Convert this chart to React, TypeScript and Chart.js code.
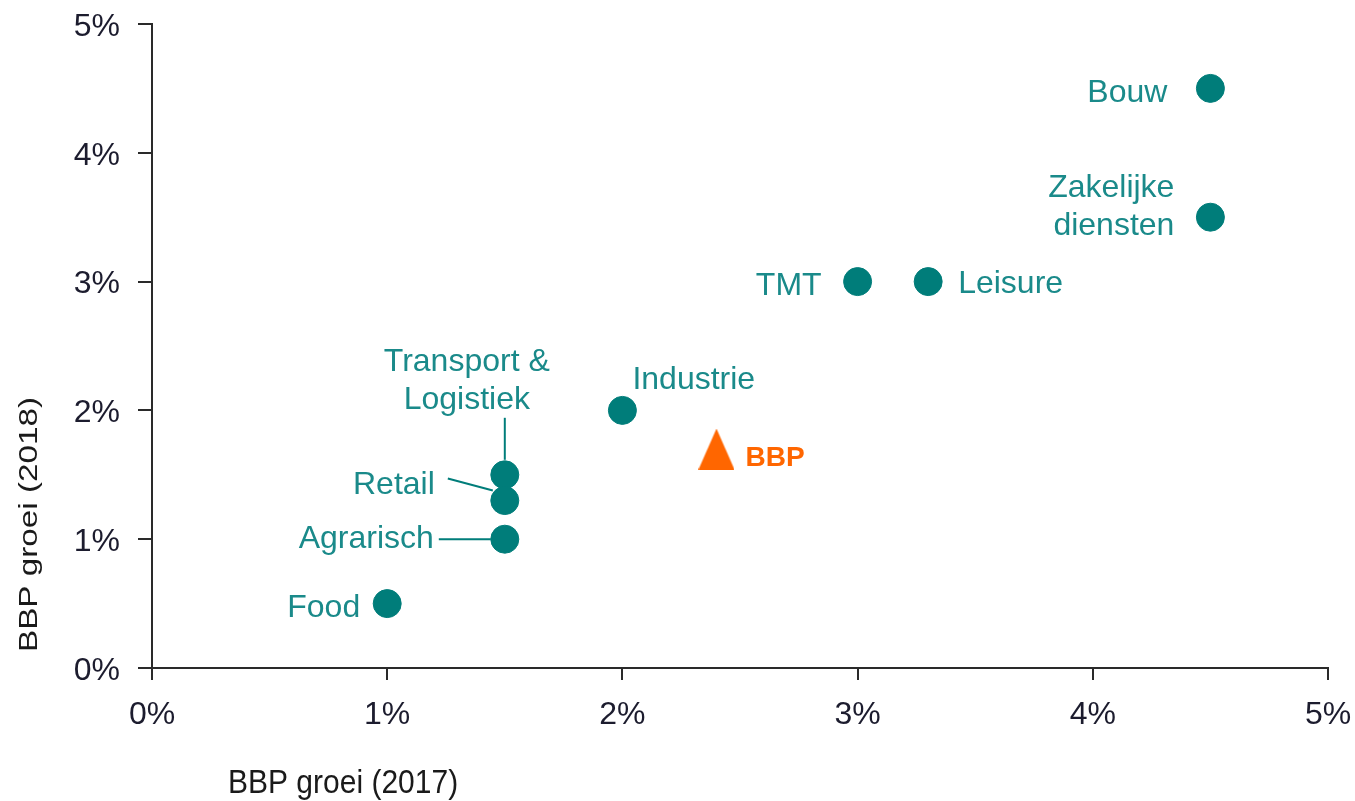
import React, { useEffect, useRef } from "react";
import { Chart, registerables } from "chart.js";

Chart.register(...registerables);

const sectors = ["Bouw", "Zakelijke diensten", "TMT", "Leisure", "Industrie", "Transport & Logistiek", "Retail", "Agrarisch", "Food"];
const growth2017 = [4.5, 4.5, 3.0, 3.3, 2.0, 1.5, 1.5, 1.5, 1.0];
const growth2018 = [4.5, 3.5, 3.0, 3.0, 2.0, 1.5, 1.3, 1.0, 0.5];

const bbpLabel = "BBP";
const bbp2017 = [2.4];
const bbp2018 = [1.7];

const xTicks = [0, 1, 2, 3, 4, 5];
const yTicks = [0, 1, 2, 3, 4, 5];

const xTitle = "BBP groei (2017)";
const yTitle = "BBP groei (2018)";

// label layout: lines, alignment and pixel offsets from each point
const labelLayout = [
  { lines: ["Bouw"], align: "right", dx: -43, dy: 5 },
  { lines: ["Zakelijke", "diensten"], align: "right", dx: -36, dy: -29 },
  { lines: ["TMT"], align: "right", dx: -36, dy: 5 },
  { lines: ["Leisure"], align: "left", dx: 30, dy: 3 },
  { lines: ["Industrie"], align: "left", dx: 10, dy: -30 },
  { lines: ["Transport &", "Logistiek"], align: "center", dx: -38, dy: -113, leader: [0, -57, 0, -15] },
  { lines: ["Retail"], align: "right", dx: -70, dy: -15, leader: [-57, -22, -12, -10] },
  { lines: ["Agrarisch"], align: "right", dx: -71, dy: 0, leader: [-66, 0, -14, 0] },
  { lines: ["Food"], align: "right", dx: -27, dy: 5 },
];

const TEAL = "#007d7a";
const TEAL_TEXT = "#1a8a8a";
const ORANGE = "#ff6600";
const AXIS = "#2a2a2a";
const FONT = "'Liberation Sans', Arial, sans-serif";

function makeTriangle(): HTMLCanvasElement {
  const c = document.createElement("canvas");
  c.width = 36;
  c.height = 41;
  const g = c.getContext("2d")!;
  g.fillStyle = ORANGE;
  g.beginPath();
  g.moveTo(18, 0);
  g.lineTo(36, 41);
  g.lineTo(0, 41);
  g.closePath();
  g.fill();
  return c;
}

const labelPlugin = {
  id: "labelPlugin",
  afterDatasetsDraw(chart: any) {
    const ctx = chart.ctx;
    const xs = chart.scales.x;
    const ys = chart.scales.y;
    ctx.save();
    ctx.font = `32px ${FONT}`;
    ctx.fillStyle = TEAL_TEXT;
    ctx.strokeStyle = TEAL;
    ctx.lineWidth = 2;
    ctx.textBaseline = "middle";
    sectors.forEach((_, i) => {
      const px = xs.getPixelForValue(growth2017[i]);
      const py = ys.getPixelForValue(growth2018[i]);
      const l = labelLayout[i];
      ctx.textAlign = l.align;
      l.lines.forEach((t, j) => {
        ctx.fillText(t, px + l.dx, py + l.dy + j * 38);
      });
      if (l.leader) {
        ctx.beginPath();
        ctx.moveTo(px + l.leader[0], py + l.leader[1]);
        ctx.lineTo(px + l.leader[2], py + l.leader[3]);
        ctx.stroke();
      }
    });
    // BBP label
    const bx = xs.getPixelForValue(bbp2017[0]);
    const by = ys.getPixelForValue(bbp2018[0]);
    ctx.font = `bold 28px ${FONT}`;
    ctx.fillStyle = ORANGE;
    ctx.textAlign = "left";
    ctx.fillText(bbpLabel, bx + 29, by + 9);

    // axis titles
    ctx.fillStyle = "#1a1a1a";
    ctx.textAlign = "left";
    ctx.textBaseline = "alphabetic";
    ctx.save();
    ctx.font = `30px ${FONT}`;
    ctx.scale(1, 1.12);
    ctx.fillText(xTitle, 228, 793 / 1.12);
    ctx.restore();
    ctx.save();
    ctx.font = `25px ${FONT}`;
    ctx.translate(37, 652);
    ctx.rotate(-Math.PI / 2);
    ctx.scale(1.33, 1);
    ctx.fillText(yTitle, 0, 0);
    ctx.restore();
    ctx.restore();
  },
};

export default function App() {
  const ref = useRef<HTMLCanvasElement | null>(null);
  useEffect(() => {
    document.body.style.margin = "0";
    const tri = makeTriangle();
    const chart = new Chart(ref.current!, {
      type: "scatter",
      data: {
        datasets: [
          {
            label: "Sectoren",
            data: growth2017.map((x, i) => ({ x, y: growth2018[i] })),
            backgroundColor: TEAL,
            borderColor: TEAL,
            borderWidth: 1,
            pointRadius: 14,
            pointHoverRadius: 14,
          },
          {
            label: bbpLabel,
            data: bbp2017.map((x, i) => ({ x, y: bbp2018[i] })),
            pointStyle: tri,
            backgroundColor: ORANGE,
            pointRadius: 20,
          },
        ],
      },
      options: {
        animation: false,
        responsive: true,
        maintainAspectRatio: false,
        layout: { padding: { left: 0, right: 27, top: 24, bottom: 0 } },
        plugins: { legend: { display: false }, tooltip: { enabled: false } },
        scales: {
          x: {
            type: "linear",
            min: 0,
            max: 5,
            afterBuildTicks: (s: any) => {
              s.ticks = xTicks.map((v) => ({ value: v }));
            },
            afterFit: (s: any) => {
              s.height = 133;
              s.paddingLeft = 0;
              s.paddingRight = 0;
            },
            grid: { drawOnChartArea: false, drawTicks: true, tickLength: 12, color: AXIS, lineWidth: 2 },
            border: { display: true, color: AXIS, width: 2 },
            ticks: {
              callback: (v: any) => `${v}%`,
              font: { family: FONT, size: 32 },
              color: "#1c1c2e",
              padding: 16,
              maxRotation: 0,
            },
          },
          y: {
            type: "linear",
            min: 0,
            max: 5,
            afterBuildTicks: (s: any) => {
              s.ticks = yTicks.map((v) => ({ value: v }));
            },
            afterFit: (s: any) => {
              s.width = 152;
              s.paddingTop = 0;
              s.paddingBottom = 0;
            },
            grid: { drawOnChartArea: false, drawTicks: true, tickLength: 14, color: AXIS, lineWidth: 2 },
            border: { display: true, color: AXIS, width: 2 },
            ticks: {
              callback: (v: any) => `${v}%`,
              font: { family: FONT, size: 32 },
              color: "#1c1c2e",
              padding: 18,
              labelOffset: 3,
            },
          },
        },
      },
      plugins: [labelPlugin],
    });
    return () => chart.destroy();
  }, []);
  return (
    <div style={{ position: "relative", width: 1355, height: 801 }}>
      <canvas ref={ref} />
    </div>
  );
}
